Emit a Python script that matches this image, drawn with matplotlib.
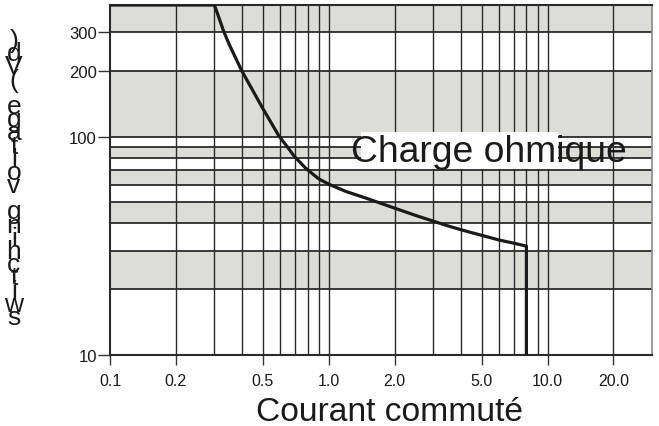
import matplotlib
matplotlib.use("Agg")
import matplotlib.pyplot as plt
from matplotlib.patches import Rectangle

plt.rcParams['font.family'] = ['Liberation Sans', 'DejaVu Sans']

# ---- data ----
current = [0.1, 0.3, 0.31, 0.33, 0.35, 0.40, 0.45, 0.50, 0.55, 0.59, 0.65, 0.69, 0.75, 0.78,
           0.85, 0.90, 1.0, 1.2, 1.5, 2.0, 2.5, 3.0, 3.5, 4.0, 4.5, 5.0, 6.0, 7.0, 8.0, 8.0]
voltage = [400, 400, 365, 305, 265, 200, 162, 134, 114, 101, 89, 82, 75, 72,
           67, 64, 60.5, 56, 52, 47, 43.5, 41, 39, 37.5, 36.3, 35.3, 33.6, 32.5, 31.5, 10]

band_edges = [10, 20, 30, 40, 50, 60, 70, 80, 90, 100, 200, 300, 400]
vgrid = [0.2, 0.3, 0.4, 0.5, 0.6, 0.7, 0.8, 0.9, 1, 2, 3, 4, 5, 6, 7, 8, 9, 10, 20]
xticks = [0.1, 0.2, 0.5, 1.0, 2.0, 5.0, 10.0, 20.0]
xticklabels = ["0.1", "0.2", "0.5", "1.0", "2.0", "5.0", "10.0", "20.0"]
yticks = [10, 100, 200, 300]
yticklabels = ["10", "100", "200", "300"]
xlabel = "Courant commuté"
ylabel = "switching voltage (Vd)"
annotation = "Charge ohmique"

W, H = 659, 427
fig = plt.figure(figsize=(W / 100, H / 100), dpi=100)
ax = fig.add_axes([110 / W, (H - 356) / H, (652 - 110) / W, (356 - 6) / H])
ax.set_xscale('log')
ax.set_yscale('log')
ax.set_xlim(0.1, 30)
ax.set_ylim(10, 400)

# grey bands
for i in range(len(band_edges) - 1):
    if i % 2 == 1:
        ax.axhspan(band_edges[i], band_edges[i + 1], color='#dcddd9', zorder=0, lw=0)
for v in band_edges:
    ax.axhline(v, color='#1a1a1a', lw=1.2, zorder=1)
for v in vgrid:
    ax.axvline(v, color='#2a2a2a', lw=1.0, zorder=1)

# white box behind the annotation
ax.add_patch(Rectangle(((361 - 110) / 542, (356 - 170) / 350), (558 - 361) / 542, 37 / 350,
                       transform=ax.transAxes, facecolor='white', edgecolor='none', zorder=2))
ax.text((351 - 110) / 542, (356 - 153) / 350, annotation, transform=ax.transAxes,
        fontsize=26.8, color='#1a1a1a', va='center', ha='left', zorder=3)

ax.plot(current, voltage, color='#1a1a1a', lw=2.3, zorder=4, solid_joinstyle='round')

for s in ['left', 'top', 'bottom']:
    ax.spines[s].set_color('#2a2a2a')
    ax.spines[s].set_linewidth(1.5)
ax.spines['right'].set_color('#888888')
ax.spines['right'].set_linewidth(1.2)

ax.set_xticks(xticks)
ax.set_xticklabels(xticklabels)
ax.set_yticks(yticks)
ax.set_yticklabels(yticklabels)
ax.minorticks_off()
ax.tick_params(axis='x', length=7, width=1, color='#333333', labelsize=11.5, pad=6, labelcolor='#1a1a1a')
ax.tick_params(axis='y', length=8.5, width=1, color='#333333', labelsize=12, pad=1, labelcolor='#1a1a1a')

ax.set_xlabel(xlabel, fontsize=24.2, color='#1a1a1a')
ax.xaxis.set_label_coords((390 - 110) / 542, -(428 - 356) / 350 + 0.0, transform=ax.transAxes)
ax.xaxis.label.set_va('bottom')

# garbled vertical y label: characters stacked top-to-bottom
chars = list(reversed(ylabel))
y_top, y_bot = 41, 318
step = (y_bot - y_top) / (len(chars) - 1)
for i, ch in enumerate(chars):
    fig.text(14 / W, 1 - (y_top + i * step) / H, ch, fontsize=19, ha='center', va='center',
             color='#1a1a1a')

fig.savefig("out.png", dpi=100)
